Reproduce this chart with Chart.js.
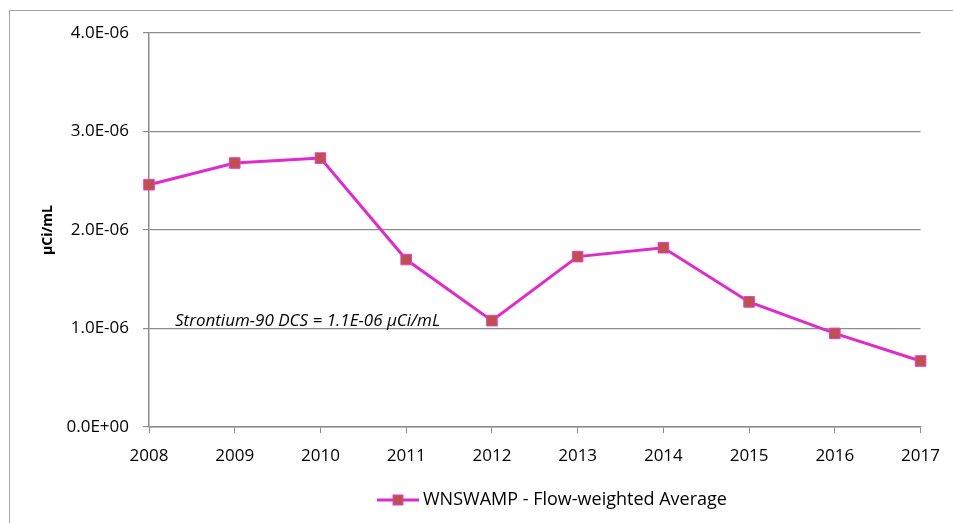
<!DOCTYPE html>
<html>
<head>
<meta charset="utf-8">
<script src="https://cdn.jsdelivr.net/npm/chart.js@4"></script>
<style>
  html, body { margin: 0; padding: 0; background: #fff; }
  #wrap { width: 953px; height: 523px; position: relative; }
</style>
</head>
<body>
<div id="wrap"><canvas id="myChart" width="953" height="523"></canvas></div>
<script>
// data
const years = ["2008", "2009", "2010", "2011", "2012", "2013", "2014", "2015", "2016", "2017"];
const flowAvg = [2.46e-6, 2.68e-6, 2.73e-6, 1.70e-6, 1.08e-6, 1.73e-6, 1.82e-6, 1.27e-6, 0.95e-6, 0.67e-6];
const yTicks = [0, 1e-6, 2e-6, 3e-6, 4e-6];
const seriesName = "WNSWAMP - Flow-weighted Average";
const dcsNote = "Strontium-90 DCS = 1.1E-06 \u00b5Ci/mL";

const FONT = "'Open Sans', sans-serif";
const lineColor = "#DF2BCB";
const markerFill = "#C0504D";

function fmtExp(v) {
  if (v === 0) return "0.0E+00";
  const parts = v.toExponential(1).split("e");
  let exp = parseInt(parts[1], 10);
  const sign = exp < 0 ? "-" : "+";
  exp = Math.abs(exp);
  return parts[0] + "E" + sign + (exp < 10 ? "0" + exp : exp);
}

// frame, note and legend
const extras = {
  id: "extras",
  afterDraw(chart) {
    const ctx = chart.ctx;
    const y = chart.scales.y;
    const area = chart.chartArea;
    ctx.save();

    // outer frame
    ctx.strokeStyle = "#a6a6a6";
    ctx.lineWidth = 1;
    ctx.strokeRect(9.5, 10.5, 1200, 1200);

    // DCS note
    ctx.font = "italic 17px " + FONT;
    ctx.fillStyle = "#000";
    ctx.textBaseline = "alphabetic";
    ctx.textAlign = "left";
    ctx.fillText(dcsNote, area.left + 26, y.getPixelForValue(1e-6) - 3);

    // legend
    ctx.font = "18px " + FONT;
    const lx = 377;
    const ly = 500;
    ctx.strokeStyle = lineColor;
    ctx.lineWidth = 3;
    ctx.beginPath();
    ctx.moveTo(lx, ly);
    ctx.lineTo(lx + 42, ly);
    ctx.stroke();
    ctx.fillStyle = markerFill;
    ctx.fillRect(lx + 21 - 5, ly - 5, 10, 10);
    ctx.strokeStyle = "#E040D0";
    ctx.lineWidth = 1;
    ctx.strokeRect(lx + 21 - 5, ly - 5, 10, 10);
    ctx.fillStyle = "#000";
    ctx.textBaseline = "middle";
    ctx.fillText(seriesName, lx + 46, ly);
    ctx.restore();
  }
};

const ctx = document.getElementById("myChart").getContext("2d");
new Chart(ctx, {
  type: "line",
  data: {
    labels: years,
    datasets: [{
      label: seriesName,
      data: flowAvg,
      borderColor: lineColor,
      borderWidth: 3,
      backgroundColor: markerFill,
      pointStyle: "rect",
      pointRadius: 7.5,
      pointHoverRadius: 7.5,
      pointBackgroundColor: markerFill,
      pointBorderColor: "#E040D0",
      pointBorderWidth: 1,
      tension: 0
    }]
  },
  options: {
    responsive: false,
    animation: false,
    layout: { padding: { top: 33, right: 32, bottom: 0, left: 0 } },
    plugins: {
      legend: { display: false },
      tooltip: { enabled: false }
    },
    scales: {
      x: {
        offset: false,
        grid: {
          display: true,
          drawOnChartArea: false,
          drawTicks: true,
          tickLength: 6,
          color: "#8c8c8c",
          lineWidth: 1
        },
        border: { color: "#8c8c8c", width: 1.5 },
        ticks: {
          color: "#000",
          font: { family: FONT, size: 17 },
          padding: 13,
          maxRotation: 0
        },
        afterFit(s) { s.height = 96; }
      },
      y: {
        min: 0,
        max: 4e-6,
        afterBuildTicks(s) { s.ticks = yTicks.map(v => ({ value: v })); },
        grid: {
          color: "#8c8c8c",
          lineWidth: 1.2,
          tickLength: 6
        },
        border: { color: "#8c8c8c", width: 1.5 },
        ticks: {
          color: "#000",
          font: { family: FONT, size: 17 },
          padding: 14,
          callback: v => fmtExp(v)
        },
        title: {
          display: true,
          text: "\u00b5Ci/mL",
          color: "#000",
          font: { family: FONT, size: 14, weight: "bold" },
          padding: { top: 40, bottom: 0 }
        },
        afterFit(s) { s.width = 149; }
      }
    }
  },
  plugins: [extras]
});
</script>
</body>
</html>
